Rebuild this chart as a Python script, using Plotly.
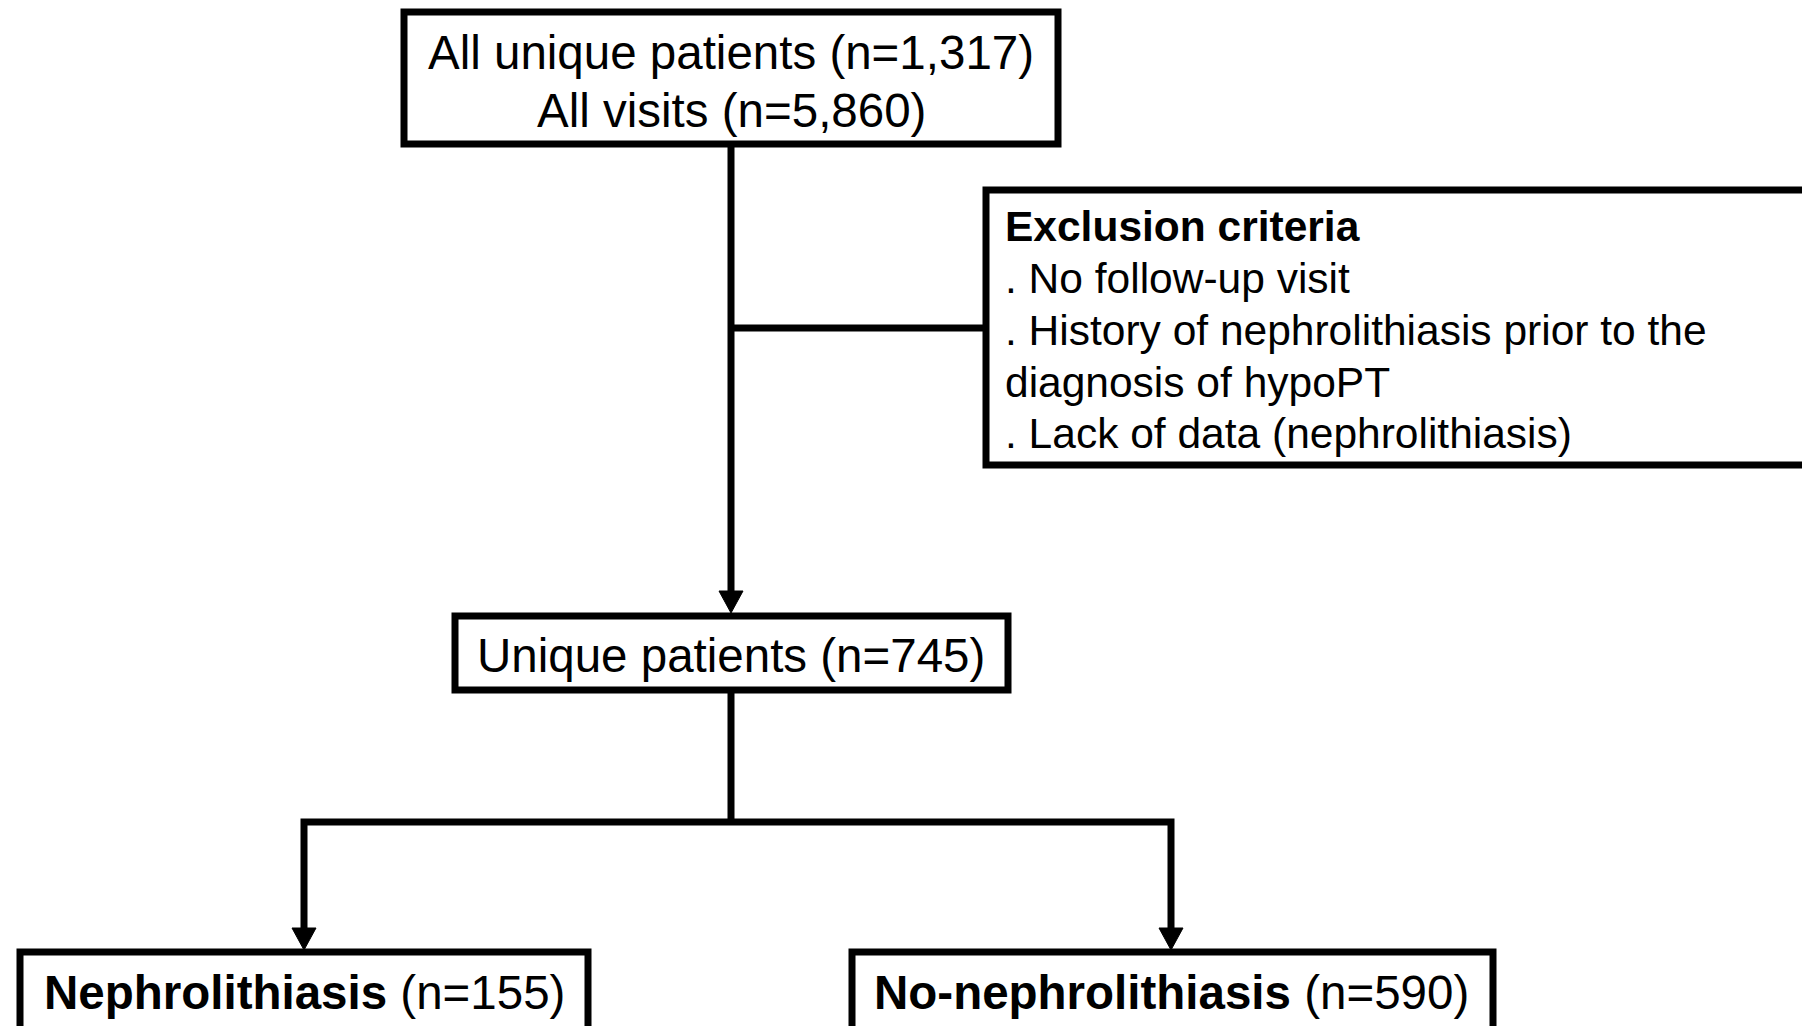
import plotly.graph_objects as go

# ---- data (counts shown in the flowchart) ----
all_patients = 1317
all_visits = 5860
unique_patients = 745
group_labels = ["Nephrolithiasis", "No-nephrolithiasis"]
group_counts = [155, 590]
exclusion_title = "Exclusion criteria"
exclusion_items = [
    ". No follow-up visit",
    ". History of nephrolithiasis prior to the",
    "diagnosis of hypoPT",
    ". Lack of data (nephrolithiasis)",
]

W, H = 1802, 1026
LW = 7
FONT = "Liberation Sans, Arial, sans-serif"
BIG = 47.5
SMALL = 42.5
BLACK = "#000000"

shapes = []
annotations = []


def box(x0, y0, x1, y1):
    shapes.append(dict(type="rect", xref="x", yref="y", x0=x0, y0=y0, x1=x1, y1=y1,
                       line=dict(color=BLACK, width=LW), fillcolor="white", layer="below"))


def line(x0, y0, x1, y1):
    shapes.append(dict(type="line", xref="x", yref="y", x0=x0, y0=y0, x1=x1, y1=y1,
                       line=dict(color=BLACK, width=LW), layer="below"))


def polyline(points):
    path = "M " + " L ".join(f"{x},{y}" for x, y in points)
    shapes.append(dict(type="path", xref="x", yref="y", path=path,
                       line=dict(color=BLACK, width=LW), layer="below"))


def arrow_head(x, ytip, w=24, h=22):
    path = f"M {x - w/2},{ytip - h} L {x + w/2},{ytip - h} L {x},{ytip} Z"
    shapes.append(dict(type="path", xref="x", yref="y", path=path,
                       fillcolor=BLACK, line=dict(color=BLACK, width=1), layer="above"))


def text(x, y, s, size=BIG, xanchor="center"):
    annotations.append(dict(x=x, y=y, xref="x", yref="y", text=s, showarrow=False,
                            xanchor=xanchor, yanchor="middle",
                            font=dict(family=FONT, size=size, color=BLACK)))


cx = 731
group_x = [304, 1171]
# connectors
line(cx, 144, cx, 600)
arrow_head(cx, 613)
line(cx, 328, 986, 328)
line(cx, 690, cx, 822)
polyline([(group_x[0], 935), (group_x[0], 822), (group_x[1], 822), (group_x[1], 935)])
for gx in group_x:
    arrow_head(gx, 950)

# boxes
box(404, 12, 1058, 144)
box(986, 190, 1950, 465)
box(455, 616, 1008, 690)
box(20, 952, 588, 1120)
box(852, 952, 1493, 1120)

# texts
text(cx, 52, f"All unique patients (n={all_patients:,})")
text(cx, 110, f"All visits (n={all_visits:,})")
text(cx, 655, f"Unique patients (n={unique_patients})")

ex_y = [226, 278, 330, 382, 433]
text(1003, ex_y[0], f"<b>{exclusion_title}</b>", size=SMALL, xanchor="left")
for yy, item in zip(ex_y[1:], exclusion_items):
    text(1003, yy, item, size=SMALL, xanchor="left")

for gx, lab, n in zip(group_x, group_labels, group_counts):
    text(gx, 992, f"<b>{lab}</b> (n={n})")

fig = go.Figure()
fig.add_trace(go.Scatter(x=[0, W], y=[0, H], mode="markers",
                         marker=dict(opacity=0), hoverinfo="skip", showlegend=False))
fig.update_layout(
    width=W, height=H,
    margin=dict(l=0, r=0, t=0, b=0),
    paper_bgcolor="white", plot_bgcolor="white",
    xaxis=dict(range=[0, W], visible=False, fixedrange=True),
    yaxis=dict(range=[H, 0], visible=False, fixedrange=True),
    shapes=shapes, annotations=annotations,
    showlegend=False,
)
fig.write_html("out.html",
               config={"displayModeBar": False, "staticPlot": True},
               post_script="document.body.style.margin='0';document.body.style.overflow='hidden';")
